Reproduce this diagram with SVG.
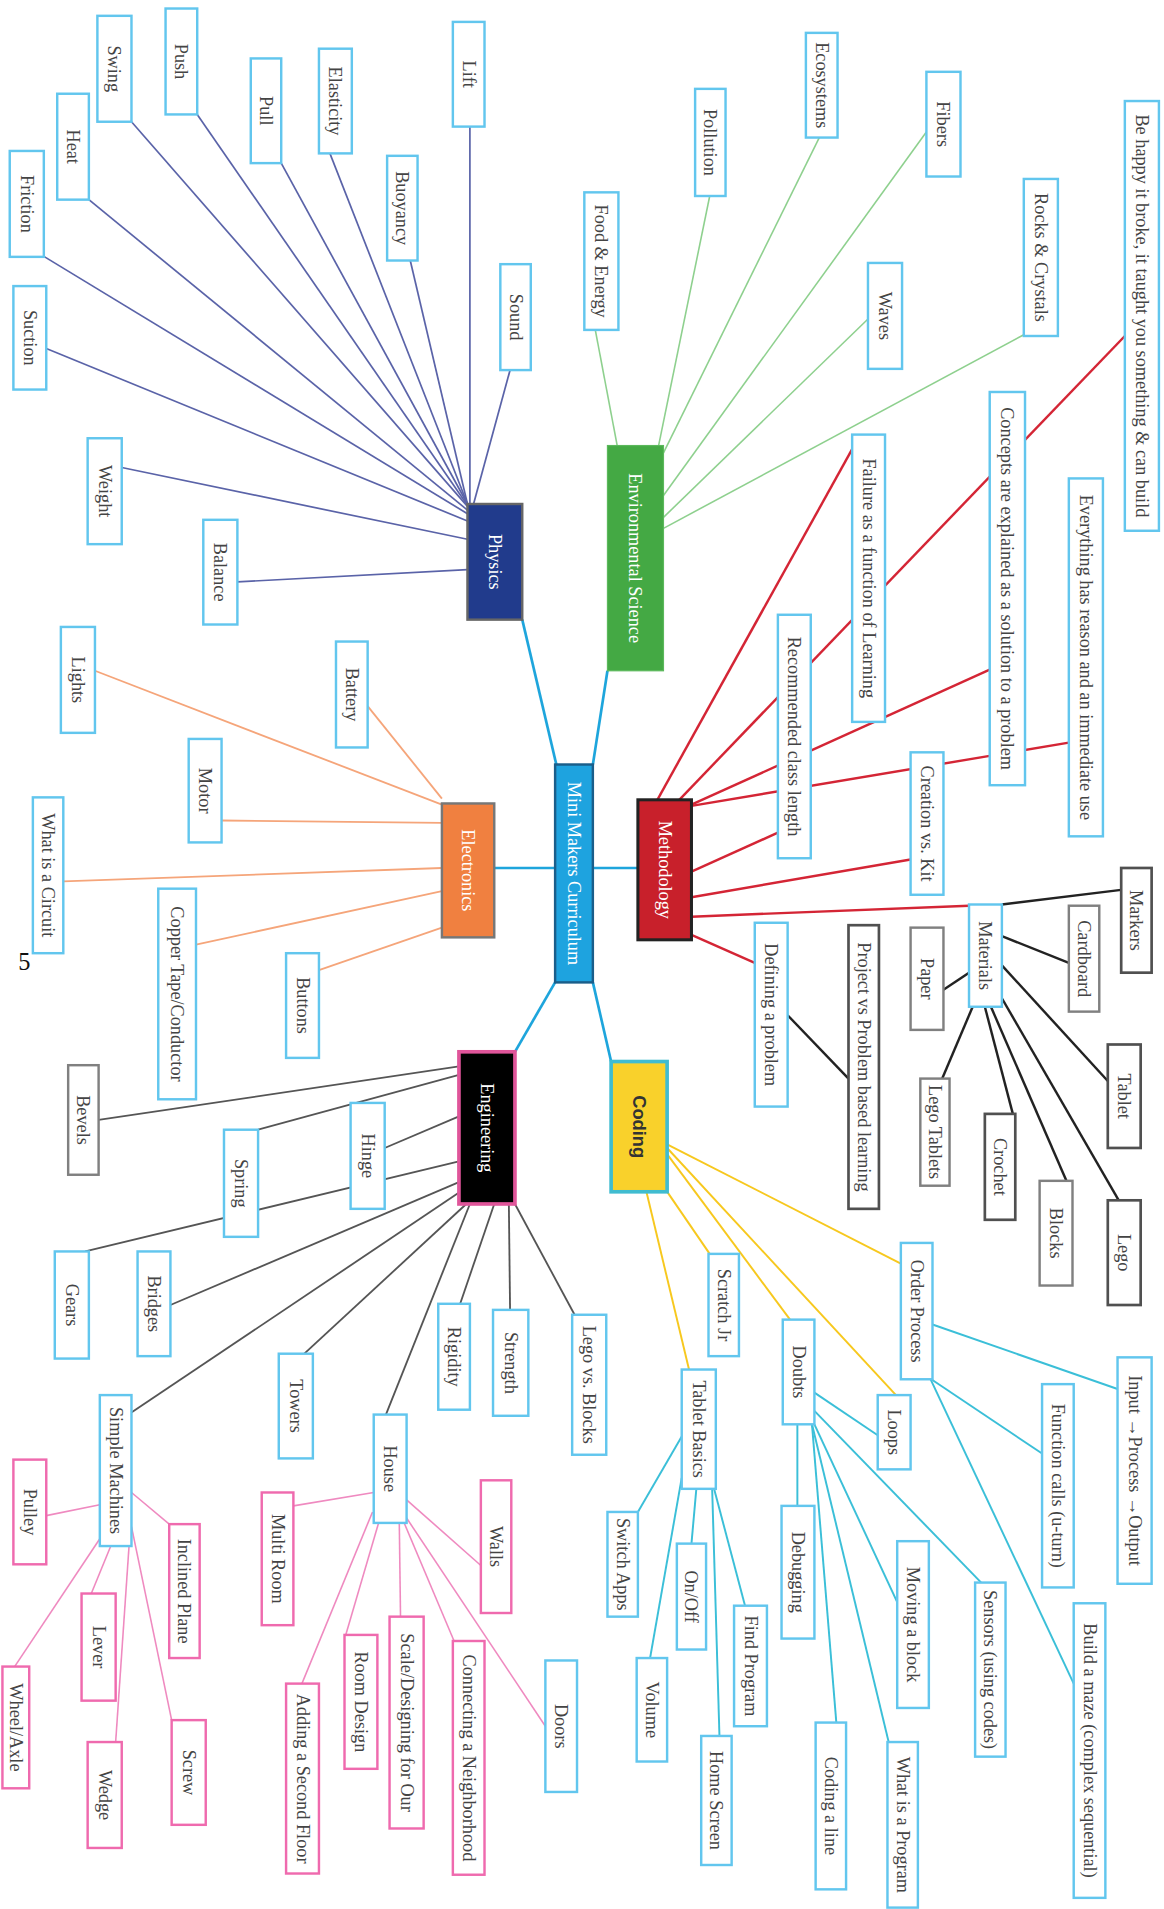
<svg xmlns="http://www.w3.org/2000/svg" width="1164" height="1909" viewBox="0 0 1164 1909">
<style>
.b rect{fill:#fff;stroke:#62c6ee;stroke-width:2}
.g rect{fill:#fff;stroke:#808080;stroke-width:2}
.k rect{fill:#fff;stroke:#505050;stroke-width:2.2}
.p rect{fill:#fff;stroke:#ef6aae;stroke-width:2}
text{font-family:"Liberation Serif","Times New Roman",serif;font-size:15px;fill:#444;text-anchor:middle;dominant-baseline:central}
.w text{fill:#fff}
.lc line{stroke:#1ea5dc;stroke-width:2.2}
.lp line{stroke:#5a63a8;stroke-width:1.4}
.le line{stroke:#8ed08e;stroke-width:1.3}
.lm line{stroke:#d42535;stroke-width:2}
.lk line{stroke:#222;stroke-width:2}
.lo line{stroke:#f5a57a;stroke-width:1.5}
.lg line{stroke:#555;stroke-width:1.5}
.lpk line{stroke:#ef8ac0;stroke-width:1.3}
.ly line{stroke:#f7c81e;stroke-width:1.6}
.lt line{stroke:#3bbfd8;stroke-width:1.6}
</style>
<rect width="1164" height="1909" fill="#fff"/>
<g transform="scale(1.21736)">
<g id="connectors">
<g class="lc">
<line x1="429" y1="509" x2="457" y2="628"/>
<line x1="487" y1="628" x2="499" y2="551"/>
<line x1="487" y1="713" x2="524" y2="713"/>
<line x1="406" y1="713" x2="456" y2="713"/>
<line x1="456" y1="807" x2="423" y2="864"/>
<line x1="487" y1="807" x2="502" y2="872"/>
</g>
<g class="lp">
<line x1="386" y1="104" x2="386" y2="414"/>
<line x1="422" y1="293" x2="389" y2="414"/>
<line x1="337" y1="214" x2="384" y2="414"/>
<line x1="271" y1="126" x2="384" y2="414"/>
<line x1="231" y1="134" x2="384" y2="414"/>
<line x1="162" y1="94" x2="384" y2="415"/>
<line x1="108" y1="100" x2="384" y2="416"/>
<line x1="73" y1="164" x2="384" y2="419"/>
<line x1="35" y1="210" x2="384" y2="422"/>
<line x1="35" y1="285" x2="384" y2="428"/>
<line x1="100" y1="384" x2="384" y2="443"/>
<line x1="195" y1="478" x2="384" y2="468"/>
</g>
<g class="le">
<line x1="489" y1="271" x2="507" y2="366"/>
<line x1="583" y1="161" x2="541" y2="366"/>
<line x1="673" y1="113" x2="545" y2="372"/>
<line x1="762" y1="107" x2="545" y2="407"/>
<line x1="713" y1="262" x2="545" y2="425"/>
<line x1="841" y1="275" x2="545" y2="434"/>
</g>
<g class="lm">
<line x1="540" y1="657" x2="700" y2="369"/>
<line x1="558" y1="657" x2="925" y2="275"/>
<line x1="568" y1="661" x2="813" y2="550"/>
<line x1="568" y1="662" x2="878" y2="610"/>
<line x1="568" y1="716" x2="639" y2="684"/>
<line x1="568" y1="737" x2="748" y2="706"/>
<line x1="568" y1="753" x2="796" y2="744"/>
<line x1="568" y1="768" x2="620" y2="791"/>
</g>
<g class="lk">
<line x1="647" y1="834" x2="697" y2="886"/>
<line x1="823" y1="743" x2="921" y2="731"/>
<line x1="823" y1="769" x2="878" y2="791"/>
<line x1="796" y1="799" x2="775" y2="813"/>
<line x1="823" y1="793" x2="910" y2="888"/>
<line x1="799" y1="827" x2="774" y2="886"/>
<line x1="809" y1="827" x2="832" y2="915"/>
<line x1="814" y1="827" x2="876" y2="970"/>
<line x1="823" y1="820" x2="919" y2="986"/>
</g>
<g class="lo">
<line x1="78" y1="551" x2="363" y2="661"/>
<line x1="302" y1="580" x2="363" y2="656"/>
<line x1="182" y1="674" x2="363" y2="676"/>
<line x1="52" y1="724" x2="363" y2="713"/>
<line x1="161" y1="776" x2="363" y2="732"/>
<line x1="262" y1="797" x2="363" y2="762"/>
</g>
<g class="lg">
<line x1="81" y1="920" x2="377" y2="876"/>
<line x1="212" y1="928" x2="377" y2="883"/>
<line x1="316" y1="943" x2="377" y2="917"/>
<line x1="377" y1="954" x2="70" y2="1028"/>
<line x1="377" y1="971" x2="140" y2="1072"/>
<line x1="378" y1="979" x2="107" y2="1161"/>
<line x1="383" y1="989" x2="250" y2="1112"/>
<line x1="386" y1="989" x2="317" y2="1162"/>
<line x1="406" y1="989" x2="378" y2="1071"/>
<line x1="418" y1="989" x2="419" y2="1076"/>
<line x1="423" y1="989" x2="472" y2="1080"/>
</g>
<g class="lpk">
<line x1="38" y1="1245" x2="82" y2="1236"/>
<line x1="108" y1="1226" x2="139" y2="1252"/>
<line x1="82" y1="1264" x2="12" y2="1369"/>
<line x1="91" y1="1270" x2="75" y2="1309"/>
<line x1="106" y1="1270" x2="95" y2="1431"/>
<line x1="108" y1="1254" x2="141" y2="1413"/>
<line x1="307" y1="1226" x2="241" y2="1237"/>
<line x1="334" y1="1232" x2="395" y2="1286"/>
<line x1="306" y1="1242" x2="248" y2="1383"/>
<line x1="311" y1="1251" x2="284" y2="1343"/>
<line x1="328" y1="1251" x2="329" y2="1328"/>
<line x1="332" y1="1251" x2="373" y2="1348"/>
<line x1="334" y1="1247" x2="448" y2="1418"/>
</g>
<g class="ly">
<line x1="548" y1="940" x2="740" y2="1038"/>
<line x1="548" y1="943" x2="736" y2="1146"/>
<line x1="548" y1="948" x2="649" y2="1084"/>
<line x1="546" y1="976" x2="583" y2="1030"/>
<line x1="531" y1="979" x2="566" y2="1125"/>
</g>
<g class="lt">
<line x1="560" y1="1180" x2="524" y2="1242"/>
<line x1="560" y1="1214" x2="534" y2="1362"/>
<line x1="572" y1="1223" x2="568" y2="1268"/>
<line x1="585" y1="1223" x2="591" y2="1426"/>
<line x1="585" y1="1217" x2="612" y2="1319"/>
<line x1="655" y1="1170" x2="655" y2="1237"/>
<line x1="667" y1="1170" x2="687" y2="1415"/>
<line x1="667" y1="1170" x2="730" y2="1431"/>
<line x1="669" y1="1170" x2="737" y2="1316"/>
<line x1="669" y1="1159" x2="806" y2="1300"/>
<line x1="669" y1="1144" x2="721" y2="1179"/>
<line x1="766" y1="1088" x2="918" y2="1141"/>
<line x1="765" y1="1133" x2="856" y2="1194"/>
<line x1="763" y1="1130" x2="882" y2="1383"/>
</g>
</g>

<g id="central" class="w"><rect x="456" y="628" width="31" height="179" fill="#1ea3df" stroke="#1a5e8a" stroke-width="2"/><text transform="translate(471.5,717.5) rotate(90)">Mini Makers Curriculum</text></g>
<g id="physics" class="w"><rect x="384" y="414" width="45" height="95" fill="#213b8c" stroke="#666" stroke-width="2"/><text transform="translate(406.5,461.5) rotate(90)">Physics</text></g>
<g id="environmental-science" class="w"><rect x="499" y="366" width="46" height="185" fill="#44a944" stroke="#5bb85b" stroke-width="1"/><text transform="translate(522,458.5) rotate(90)">Environmental Science</text></g>
<g id="methodology" class="w"><rect x="524" y="657" width="44" height="115" fill="#c8202b" stroke="#222" stroke-width="2.5"/><text transform="translate(546,714.5) rotate(90)">Methodology</text></g>
<g id="electronics" class="w"><rect x="363" y="660" width="43" height="110" fill="#f08040" stroke="#777" stroke-width="2"/><text transform="translate(384.5,715) rotate(90)">Electronics</text></g>
<g id="engineering" class="w"><rect x="377" y="864" width="46" height="125" fill="#000" stroke="#e0559a" stroke-width="3"/><text transform="translate(400,926.5) rotate(90)">Engineering</text></g>
<g id="coding"><rect x="502" y="872" width="46" height="107" fill="#f9d12b" stroke="#40bcd0" stroke-width="3"/><text transform="translate(525,925.5) rotate(90)" style="font-family:'Liberation Sans',Arial,sans-serif;font-weight:bold;fill:#333">Coding</text></g>

<g id="lift" class="b"><rect x="372" y="18" width="26" height="86"/><text transform="translate(385,61) rotate(90)">Lift</text></g>
<g id="sound" class="b"><rect x="411" y="217" width="25" height="87"/><text transform="translate(423.5,260.5) rotate(90)">Sound</text></g>
<g id="buoyancy" class="b"><rect x="318" y="128" width="25" height="86"/><text transform="translate(330.5,171) rotate(90)">Buoyancy</text></g>
<g id="elasticity" class="b"><rect x="262" y="40" width="27" height="86"/><text transform="translate(275.5,83) rotate(90)">Elasticity</text></g>
<g id="pull" class="b"><rect x="206" y="48" width="25" height="86"/><text transform="translate(218.5,91) rotate(90)">Pull</text></g>
<g id="push" class="b"><rect x="136" y="7" width="26" height="87"/><text transform="translate(149,50.5) rotate(90)">Push</text></g>
<g id="swing" class="b"><rect x="80" y="13" width="28" height="87"/><text transform="translate(94,56.5) rotate(90)">Swing</text></g>
<g id="heat" class="b"><rect x="47" y="77" width="26" height="87"/><text transform="translate(60,120.5) rotate(90)">Heat</text></g>
<g id="friction" class="b"><rect x="8" y="124" width="28" height="87"/><text transform="translate(22,167.5) rotate(90)">Friction</text></g>
<g id="suction" class="b"><rect x="11" y="235" width="27" height="85"/><text transform="translate(24.5,277.5) rotate(90)">Suction</text></g>
<g id="weight" class="b"><rect x="72" y="360" width="28" height="87"/><text transform="translate(86,403.5) rotate(90)">Weight</text></g>
<g id="balance" class="b"><rect x="167" y="427" width="28" height="86"/><text transform="translate(181,470) rotate(90)">Balance</text></g>

<g id="food-energy" class="b"><rect x="480" y="158" width="28" height="113"/><text transform="translate(494,214.5) rotate(90)">Food &amp; Energy</text></g>
<g id="pollution" class="b"><rect x="571" y="73" width="25" height="88"/><text transform="translate(583.5,117) rotate(90)">Pollution</text></g>
<g id="ecosystems" class="b"><rect x="662" y="27" width="26" height="86"/><text transform="translate(675,70) rotate(90)">Ecosystems</text></g>
<g id="fibers" class="b"><rect x="761" y="59" width="28" height="86"/><text transform="translate(775,102) rotate(90)">Fibers</text></g>
<g id="waves" class="b"><rect x="713" y="216" width="28" height="87"/><text transform="translate(727,259.5) rotate(90)">Waves</text></g>
<g id="rocks" class="b"><rect x="841" y="147" width="28" height="129"/><text transform="translate(855,211.5) rotate(90)">Rocks &amp; Crystals</text></g>

<g id="be-happy" class="b"><rect x="924" y="83" width="28" height="353"/><text transform="translate(938,259.5) rotate(90)">Be happy it broke, it taught you something &amp; can build</text></g>
<g id="failure" class="b"><rect x="700" y="357" width="27" height="236"/><text transform="translate(713.5,475) rotate(90)">Failure as a function of Learning</text></g>
<g id="concepts" class="b"><rect x="813" y="322" width="29" height="323"/><text transform="translate(827.5,483.5) rotate(90)">Concepts are explained as a solution to a problem</text></g>
<g id="everything" class="b"><rect x="878" y="393" width="28" height="294"/><text transform="translate(892,540) rotate(90)">Everything has reason and an immediate use</text></g>
<g id="recommended" class="b"><rect x="639" y="505" width="27" height="200"/><text transform="translate(652.5,605) rotate(90)">Recommended class length</text></g>
<g id="creation" class="b"><rect x="748" y="618" width="27" height="117"/><text transform="translate(761.5,676.5) rotate(90)">Creation vs. Kit</text></g>
<g id="materials" class="b"><rect x="796" y="743" width="27" height="84"/><text transform="translate(809.5,785) rotate(90)">Materials</text></g>
<g id="defining" class="b"><rect x="620" y="758" width="27" height="151"/><text transform="translate(633.5,833.5) rotate(90)">Defining a problem</text></g>
<g id="project" class="k"><rect x="697" y="760" width="25" height="233"/><text transform="translate(709.5,876.5) rotate(90)">Project vs Problem based learning</text></g>
<g id="paper" class="g"><rect x="748" y="762" width="27" height="84"/><text transform="translate(761.5,804) rotate(90)">Paper</text></g>
<g id="markers" class="k"><rect x="921" y="713" width="25" height="86"/><text transform="translate(933.5,756) rotate(90)">Markers</text></g>
<g id="cardboard" class="g"><rect x="878" y="744" width="25" height="87"/><text transform="translate(890.5,787.5) rotate(90)">Cardboard</text></g>
<g id="tablet" class="k"><rect x="910" y="858" width="27" height="85"/><text transform="translate(923.5,900.5) rotate(90)">Tablet</text></g>
<g id="lego-tablets" class="g"><rect x="756" y="886" width="24" height="88"/><text transform="translate(768,930) rotate(90)">Lego Tablets</text></g>
<g id="crochet" class="k"><rect x="809" y="915" width="25" height="87"/><text transform="translate(821.5,958.5) rotate(90)">Crochet</text></g>
<g id="blocks" class="g"><rect x="854" y="970" width="27" height="86"/><text transform="translate(867.5,1013) rotate(90)">Blocks</text></g>
<g id="lego" class="k"><rect x="910" y="986" width="27" height="86"/><text transform="translate(923.5,1029) rotate(90)">Lego</text></g>

<g id="lights" class="b"><rect x="50" y="515" width="28" height="87"/><text transform="translate(64,558.5) rotate(90)">Lights</text></g>
<g id="battery" class="b"><rect x="276" y="527" width="26" height="87"/><text transform="translate(289,570.5) rotate(90)">Battery</text></g>
<g id="motor" class="b"><rect x="155" y="607" width="27" height="85"/><text transform="translate(168.5,649.5) rotate(90)">Motor</text></g>
<g id="circuit" class="b"><rect x="27" y="655" width="25" height="128"/><text transform="translate(39.5,719) rotate(90)">What is a Circuit</text></g>
<g id="copper" class="b"><rect x="130" y="730" width="31" height="173"/><text transform="translate(145.5,816.5) rotate(90)">Copper Tape/Conductor</text></g>
<g id="buttons" class="b"><rect x="235" y="783" width="27" height="86"/><text transform="translate(248.5,826) rotate(90)">Buttons</text></g>

<g id="bevels" class="g"><rect x="56" y="875" width="25" height="90"/><text transform="translate(68.5,920) rotate(90)">Bevels</text></g>
<g id="hinge" class="b"><rect x="288" y="906" width="28" height="87"/><text transform="translate(302,949.5) rotate(90)">Hinge</text></g>
<g id="spring" class="b"><rect x="184" y="928" width="28" height="88"/><text transform="translate(198,972) rotate(90)">Spring</text></g>
<g id="gears" class="b"><rect x="45" y="1028" width="28" height="88"/><text transform="translate(59,1072) rotate(90)">Gears</text></g>
<g id="bridges" class="b"><rect x="113" y="1028" width="27" height="86"/><text transform="translate(126.5,1071) rotate(90)">Bridges</text></g>
<g id="towers" class="b"><rect x="229" y="1112" width="28" height="86"/><text transform="translate(243,1155) rotate(90)">Towers</text></g>
<g id="simple-machines" class="b"><rect x="82" y="1146" width="26" height="124"/><text transform="translate(95,1208) rotate(90)">Simple Machines</text></g>
<g id="house" class="b"><rect x="307" y="1162" width="27" height="89"/><text transform="translate(320.5,1206.5) rotate(90)">House</text></g>
<g id="rigidity" class="b"><rect x="360" y="1071" width="26" height="87"/><text transform="translate(373,1114.5) rotate(90)">Rigidity</text></g>
<g id="strength" class="b"><rect x="405" y="1076" width="29" height="87"/><text transform="translate(419.5,1119.5) rotate(90)">Strength</text></g>
<g id="lego-vs-blocks" class="b"><rect x="470" y="1080" width="28" height="115"/><text transform="translate(484,1137.5) rotate(90)">Lego vs. Blocks</text></g>
<g id="pulley" class="p"><rect x="11" y="1199" width="27" height="86"/><text transform="translate(24.5,1242) rotate(90)">Pulley</text></g>
<g id="inclined-plane" class="p"><rect x="139" y="1252" width="25" height="110"/><text transform="translate(151.5,1307) rotate(90)">Inclined Plane</text></g>
<g id="lever" class="p"><rect x="67" y="1309" width="28" height="88"/><text transform="translate(81,1353) rotate(90)">Lever</text></g>
<g id="wheel-axle" class="p"><rect x="2" y="1369" width="22" height="100"/><text transform="translate(13,1419) rotate(90)">Wheel/Axle</text></g>
<g id="wedge" class="p"><rect x="72" y="1431" width="28" height="87"/><text transform="translate(86,1474.5) rotate(90)">Wedge</text></g>
<g id="screw" class="p"><rect x="141" y="1413" width="28" height="86"/><text transform="translate(155,1456) rotate(90)">Screw</text></g>
<g id="multi-room" class="p"><rect x="215" y="1226" width="26" height="109"/><text transform="translate(228,1280.5) rotate(90)">Multi Room</text></g>
<g id="walls" class="p"><rect x="395" y="1216" width="25" height="109"/><text transform="translate(407.5,1270.5) rotate(90)">Walls</text></g>
<g id="second-floor" class="p"><rect x="235" y="1383" width="27" height="156"/><text transform="translate(248.5,1461) rotate(90)">Adding a Second Floor</text></g>
<g id="room-design" class="p"><rect x="283" y="1343" width="27" height="110"/><text transform="translate(296.5,1398) rotate(90)">Room Design</text></g>
<g id="scale" class="p"><rect x="320" y="1328" width="28" height="174"/><text transform="translate(334,1415) rotate(90)">Scale/Designing for Our</text></g>
<g id="neighborhood" class="p"><rect x="372" y="1348" width="26" height="192"/><text transform="translate(385,1444) rotate(90)">Connecting a Neighborhood</text></g>
<g id="doors" class="b"><rect x="448" y="1364" width="26" height="108"/><text transform="translate(461,1418) rotate(90)">Doors</text></g>

<g id="scratch-jr" class="b"><rect x="582" y="1030" width="25" height="84"/><text transform="translate(594.5,1072) rotate(90)">Scratch Jr</text></g>
<g id="tablet-basics" class="b"><rect x="560" y="1125" width="28" height="98"/><text transform="translate(574,1174) rotate(90)">Tablet Basics</text></g>
<g id="doubts" class="b"><rect x="643" y="1084" width="26" height="86"/><text transform="translate(656,1127) rotate(90)">Doubts</text></g>
<g id="loops" class="b"><rect x="721" y="1146" width="27" height="61"/><text transform="translate(734.5,1176.5) rotate(90)">Loops</text></g>
<g id="order-process" class="b"><rect x="740" y="1021" width="26" height="112"/><text transform="translate(753,1077) rotate(90)">Order Process</text></g>
<g id="switch-apps" class="b"><rect x="499" y="1242" width="25" height="86"/><text transform="translate(511.5,1285) rotate(90)">Switch Apps</text></g>
<g id="volume" class="b"><rect x="523" y="1362" width="25" height="85"/><text transform="translate(535.5,1404.5) rotate(90)">Volume</text></g>
<g id="on-off" class="b"><rect x="556" y="1268" width="24" height="87"/><text transform="translate(568,1311.5) rotate(90)">On/Off</text></g>
<g id="home-screen" class="b"><rect x="576" y="1426" width="25" height="106"/><text transform="translate(588.5,1479) rotate(90)">Home Screen</text></g>
<g id="find-program" class="b"><rect x="603" y="1319" width="27" height="99"/><text transform="translate(616.5,1368.5) rotate(90)">Find Program</text></g>
<g id="debugging" class="b"><rect x="642" y="1237" width="27" height="109"/><text transform="translate(655.5,1291.5) rotate(90)">Debugging</text></g>
<g id="coding-line" class="b"><rect x="670" y="1415" width="25" height="137"/><text transform="translate(682.5,1483.5) rotate(90)">Coding a line</text></g>
<g id="what-program" class="b"><rect x="729" y="1431" width="25" height="136"/><text transform="translate(741.5,1499) rotate(90)">What is a Program</text></g>
<g id="moving-block" class="b"><rect x="737" y="1266" width="26" height="137"/><text transform="translate(750,1334.5) rotate(90)">Moving a block</text></g>
<g id="sensors" class="b"><rect x="801" y="1300" width="25" height="143"/><text transform="translate(813.5,1371.5) rotate(90)">Sensors (using codes)</text></g>
<g id="input-output" class="b"><rect x="918" y="1115" width="28" height="186"/><text transform="translate(932,1208) rotate(90)">Input →Process →Output</text></g>
<g id="function-calls" class="b"><rect x="856" y="1137" width="26" height="167"/><text transform="translate(869,1220.5) rotate(90)">Function calls (u-turn)</text></g>
<g id="maze" class="b"><rect x="882" y="1317" width="26" height="242"/><text transform="translate(895,1438) rotate(90)">Build a maze (complex sequential)</text></g>

<text x="20" y="790" style="font-size:20px;fill:#111">5</text>
</g>
</svg>
